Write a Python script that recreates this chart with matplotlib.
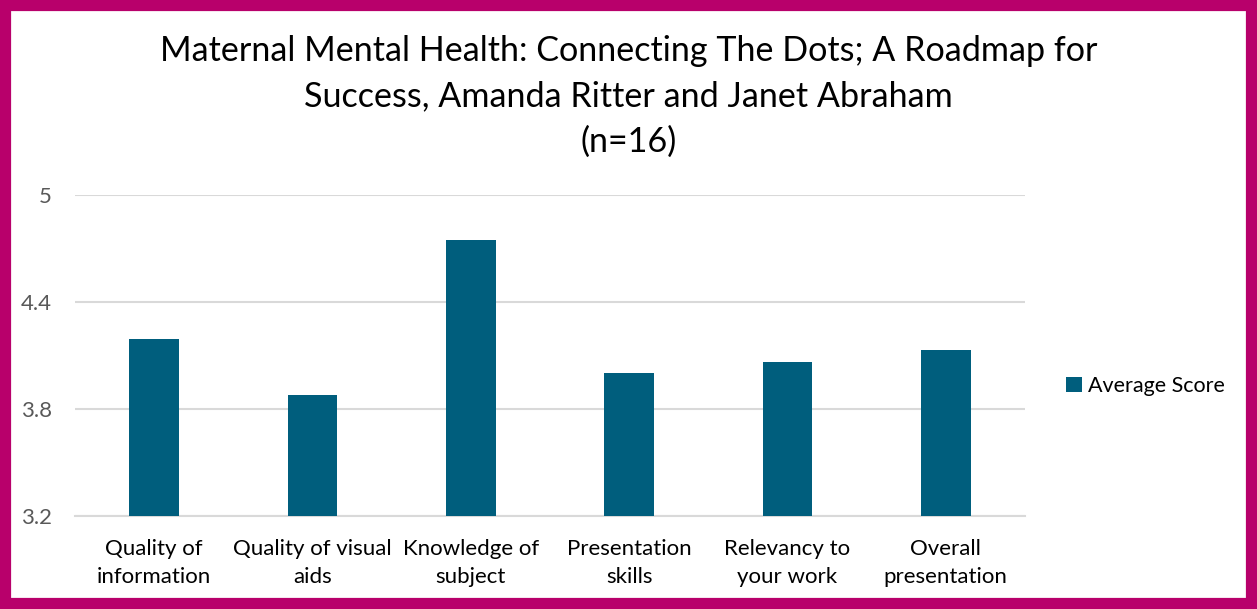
import matplotlib
matplotlib.use("Agg")
import matplotlib.pyplot as plt
from matplotlib.patches import Rectangle

# Data
categories = ["Quality of\ninformation", "Quality of visual\naids", "Knowledge of\nsubject",
              "Presentation\nskills", "Relevancy to\nyour work", "Overall\npresentation"]
scores = [4.19, 3.88, 4.75, 4.00, 4.06, 4.13]
yticks = [3.2, 3.8, 4.4, 5.0]
ytick_labels = ["3.2", "3.8", "4.4", "5"]
series_name = "Average Score"

bar_color = "#005E7D"
border_color = "#B8006B"
plt.rcParams["font.family"] = ["Lato", "DejaVu Sans"]

fig = plt.figure(figsize=(12.57, 6.09), dpi=100)
ax = fig.add_axes([0.0597, 0.1532, 0.7557, 0.5266])

x = range(len(categories))
ax.bar(x, scores, width=0.314, color=bar_color, label=series_name, zorder=3)

ax.set_ylim(3.2, 5.0)
ax.set_xlim(-0.5, len(categories) - 0.5)
ax.set_yticks(yticks)
ax.set_yticklabels(ytick_labels, fontsize=16, color="#595959")
ax.set_xticks(list(x))
ax.set_xticklabels(categories, fontsize=16, color="#000000", linespacing=1.55)
ax.tick_params(axis="both", length=0)
ax.tick_params(axis="y", pad=16.5)
ax.tick_params(axis="x", pad=16.5)
ax.grid(axis="y", color="#D9D9D9", linewidth=1.5, zorder=0)
for s in ["top", "right", "left"]:
    ax.spines[s].set_visible(False)
ax.spines["bottom"].set_color("#D9D9D9")
ax.spines["bottom"].set_linewidth(1.5)

fig.text(0.5, 0.943, "Maternal Mental Health: Connecting The Dots; A Roadmap for\n"
         "Success, Amanda Ritter and Janet Abraham\n(n=16)",
         ha="center", va="top", fontsize=24.6, linespacing=1.52)

leg = fig.legend(loc="center left", bbox_to_anchor=(0.833, 0.366), frameon=False,
                 fontsize=15.5, handlelength=0.7, handleheight=0.7, handletextpad=0.3)

fig.patches.append(Rectangle((0, 0), 1, 1, transform=fig.transFigure, fill=False,
                             edgecolor=border_color, linewidth=16, zorder=10))

fig.savefig("out.png", dpi=100)
